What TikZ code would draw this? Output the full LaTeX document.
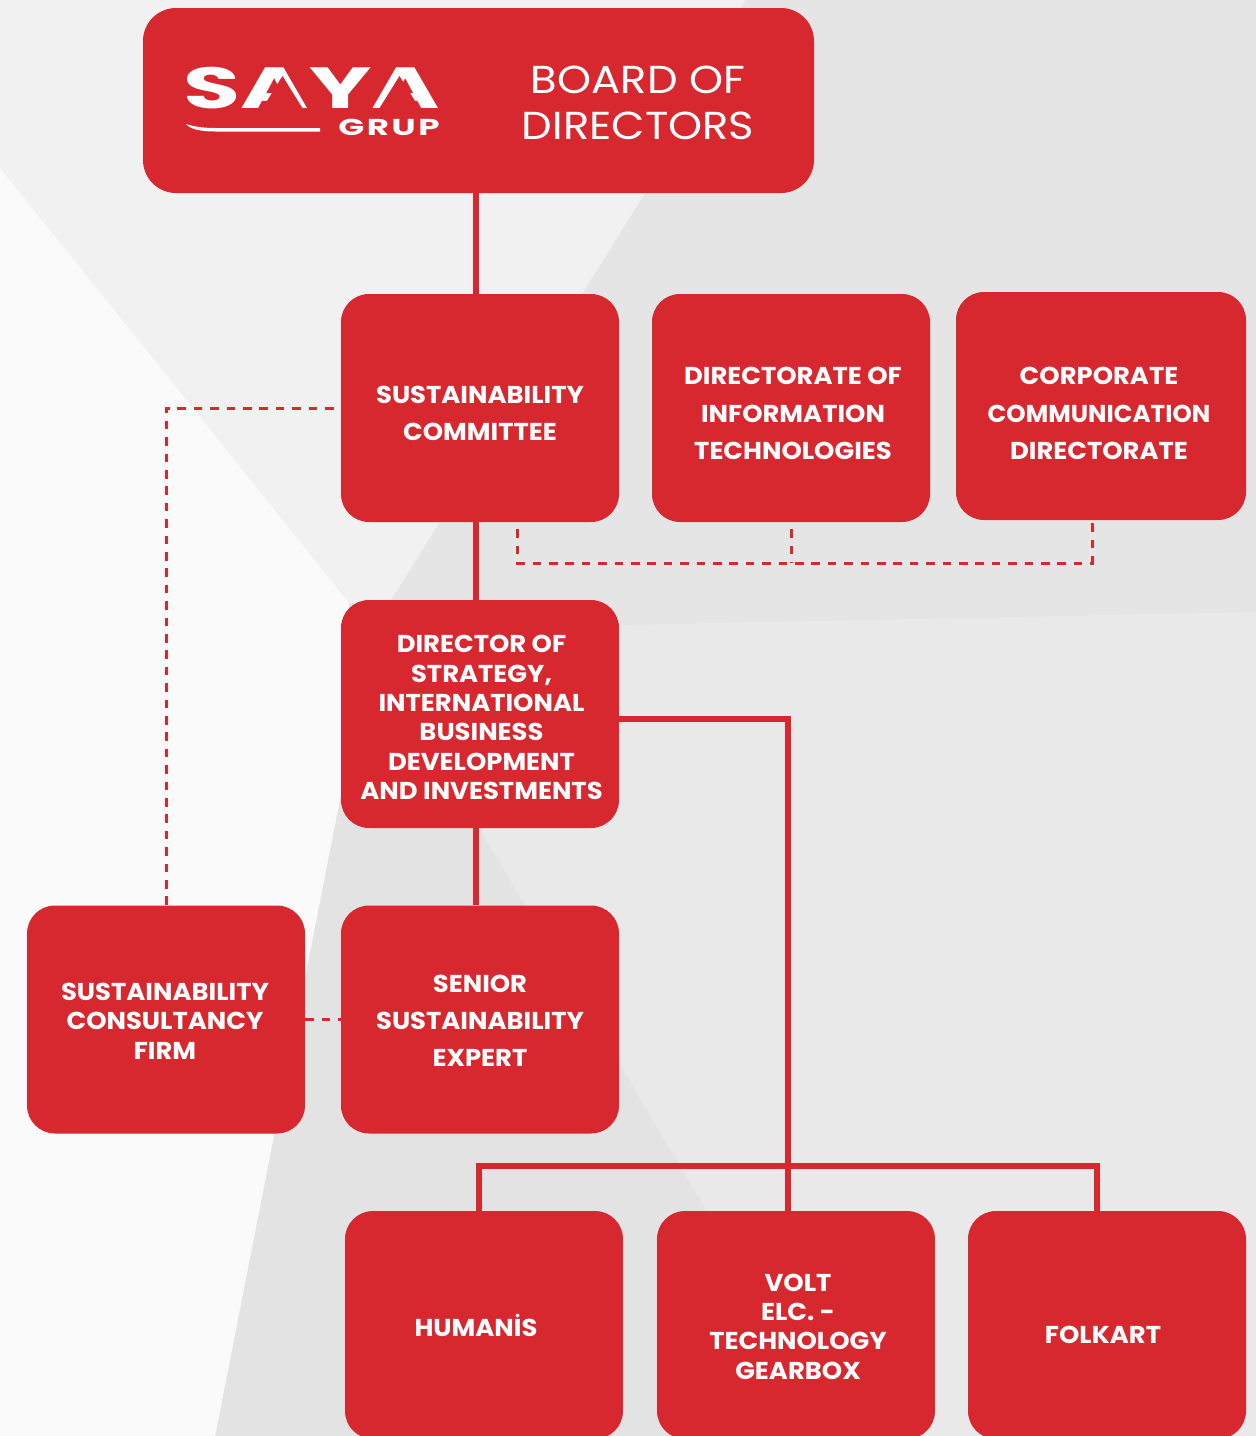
\documentclass[tikz,border=0pt]{standalone}
\usepackage{graphicx}
\usepackage{fontspec}
\setmainfont[FakeStretch=1.06]{Poppins}
\newfontfamily\boardfont[FakeStretch=1.11]{Poppins}
\usetikzlibrary{positioning}
\definecolor{sayared}{HTML}{D7282F}
\tikzset{
  redbox/.style={draw=none, fill=sayared, rounded corners=14pt, minimum width=139pt, minimum height=114pt, inner sep=0pt},
  tighttext/.style={text=white, align=center, inner sep=0pt, font=\fontsize{12.2pt}{14.7pt}\selectfont\bfseries},
  widetext/.style={text=white, align=center, inner sep=0pt, font=\fontsize{12.2pt}{18.6pt}\selectfont\bfseries},
  conn/.style={sayared, line width=2.6pt},
  dashconn/.style={sayared, line width=1.5pt, dash pattern=on 4.3pt off 3.9pt, dash phase=4.7pt}
}
\begin{document}
\begin{tikzpicture}[x=.5pt, y=-.5pt]
\useasboundingbox (0,0) rectangle (1256,1436);
% background
\fill[black!10] (0,0) rectangle (1256,1436);
\fill[black!8.5] (620,625)--(1256,612)--(1256,1436)--(760,1436)--(480,830)--cycle;
\fill[black!11] (341,794)--(480,830)--(712,1220)--(830,1436)--(215,1436)--cycle;
\fill[black!5.5] (0,0)--(745,0)--(645,193)--(391,600)--(349,603)--(341,794)--(215,1436)--(0,1436)--cycle;
\fill[black!2] (0,168)--(349,603)--(341,794)--(215,1436)--(0,1436)--cycle;

% boxes
\node[redbox, rounded corners=16.5pt, minimum width=335.5pt, minimum height=92.5pt] (board) at (478.5,100.5) {};
\node[redbox] (committee) at (480,408) {};
\node[redbox] (infotech) at (791,408) {};
\node[redbox, minimum width=145pt] (corpcomm) at (1101,406) {};
\node[redbox] (strategy) at (480,714) {};
\node[redbox] (firm) at (166,1019.5) {};
\node[redbox] (expert) at (480,1019.5) {};
\node[redbox] (humanis) at (484,1325) {};
\node[redbox] (volt) at (796,1325) {};
\node[redbox] (folkart) at (1107,1325) {};

% box texts
\node[widetext] (committeetext) at (480,413.5) {SUSTAINABILITY\\COMMITTEE};
\node[widetext] (infotechtext) at (793,413.5) {DIRECTORATE OF\\INFORMATION\\TECHNOLOGIES};
\node[widetext] (corpcommtext) at (1099,413.5) {CORPORATE\\\scalebox{.95}[1]{COMMUNICATION}\\DIRECTORATE};
\node[tighttext] (strategytext) at (481.5,717.5) {DIRECTOR OF\\STRATEGY,\\INTERNATIONAL\\BUSINESS\\DEVELOPMENT\\AND INVESTMENTS};
\node[tighttext] (firmtext) at (165,1021) {SUSTAINABILITY\\CONSULTANCY\\FIRM};
\node[widetext] (experttext) at (480,1021) {SENIOR\\SUSTAINABILITY\\EXPERT};
\node[tighttext] (humanistext) at (476,1325) {HUMANİS};
\node[tighttext] (volttext) at (798,1326.5) {VOLT\\ELC. -\\TECHNOLOGY\\GEARBOX};
\node[tighttext] (folkarttext) at (1103,1335) {FOLKART};

% board text and logo
\node[text=white, align=center, inner sep=0pt, font=\boardfont\fontsize{19.5pt}{23pt}\selectfont] (boardtext) at (638,103) {BOARD OF\\DIRECTORS};
\node[text=white, font=\fontsize{29pt}{29pt}\selectfont\bfseries, inner sep=0pt, text depth=0pt] (saya) at (312,88) {\scalebox{1.51}[1]{SAYA}};
\fill[sayared] (282.5,76) -- (262,109) -- (303,109) -- cycle;
\fill[sayared] (399.5,76) -- (379,109) -- (420,109) -- cycle;
\node[text=white, font=\fontsize{11.5pt}{11.5pt}\selectfont\bfseries, inner sep=0pt] (grup) at (389,127) {\addfontfeature{LetterSpace=8}\scalebox{1.4}[1]{GRUP}};
\coordinate (swooshA) at (186,124);
\coordinate (swooshB) at (320,128);
\fill[white] (swooshA) .. controls (195,127) and (205,128) .. (215,128) -- (swooshB) -- (320,131.5) -- (215,131.5) .. controls (200,131.5) and (190,129) .. (swooshA) -- cycle;

% connectors
\coordinate (trunk) at (476,300);
\coordinate (drop) at (788,1166);
\coordinate (busleft) at (479,1166);
\coordinate (busright) at (1097,1166);
\draw[conn] (trunk |- board.south) -- (trunk |- committee.north);
\draw[conn] (trunk |- committee.south) -- (trunk |- strategy.north);
\draw[conn] (trunk |- strategy.south) -- (trunk |- expert.north);
\draw[conn] (strategy.east |- 0,719) -- (drop |- 0,719) -- (drop |- volt.north);
\draw[conn] (busleft |- humanis.north) -- (busleft) -- (busright) -- (busright |- folkart.north);

\coordinate (dashcorner) at (166,408);
\coordinate (bracketA) at (517,563);
\coordinate (bracketB) at (791,563);
\coordinate (bracketC) at (1092,563);
\draw[dashconn] (committee.west) -- (dashcorner) -- (firm.north -| dashcorner);
\draw[dashconn, dash phase=0pt] (firm.east) -- (expert.west);
\draw[dashconn] (bracketA |- committee.south) -- (bracketA) -- (bracketC) -- (bracketC |- corpcomm.south);
\draw[dashconn] (bracketB |- infotech.south) -- (bracketB);
\end{tikzpicture}
\end{document}
